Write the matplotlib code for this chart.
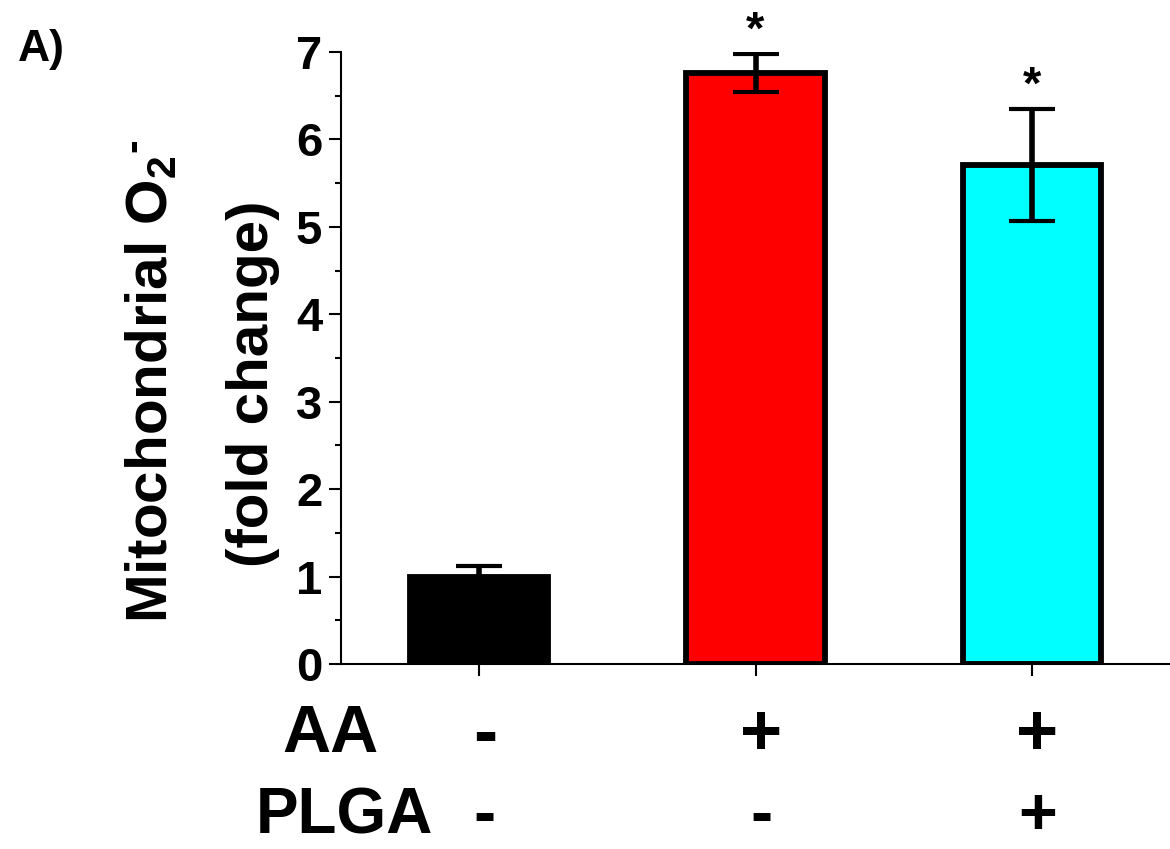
import matplotlib
matplotlib.use('Agg')
import matplotlib.pyplot as plt
from matplotlib.ticker import MultipleLocator
from matplotlib import transforms

# data
groups = ['ctrl', 'AA', 'AA+PLGA']
fold_change = [1.00, 6.76, 5.71]
fold_err = [0.12, 0.22, 0.64]
bar_colors = ['#000000', '#FF0000', '#00FFFF']
signif = ['', '*', '*']
row_names = ['AA', 'PLGA']
row_signs = [['-', '+', '+'],
             ['-', '-', '+']]

plt.rcParams['font.family'] = ['Liberation Sans', 'DejaVu Sans']
plt.rcParams['font.weight'] = 'bold'
plt.rcParams['mathtext.fontset'] = 'custom'
plt.rcParams['mathtext.rm'] = 'Liberation Sans:bold'
plt.rcParams['mathtext.bf'] = 'Liberation Sans:bold'
plt.rcParams['mathtext.it'] = 'Liberation Sans:bold'

fig = plt.figure(figsize=(11.7, 8.49), dpi=100)
ax = fig.add_axes([0.2915, 0.2179, 0.7085, 0.7209])

xpos = list(range(len(groups)))
ax.bar(xpos, fold_change, width=0.50, color=bar_colors, edgecolor='black',
       linewidth=4.2, zorder=2)
ax.errorbar(xpos, fold_change, yerr=fold_err, fmt='none', ecolor='black',
            elinewidth=4, capsize=16.5, capthick=3, zorder=3)

for x, v, e, s in zip(xpos, fold_change, fold_err, signif):
    if s:
        ax.annotate(s, (x, v + e), xytext=(0, 7), textcoords='offset points',
                    ha='center', va='baseline', fontsize=34, fontweight='bold',
                    annotation_clip=False)

ax.set_xlim(-0.5, 2.5)
ax.set_ylim(0, 7)
ax.set_xticks(xpos)
ax.set_xticklabels([])
ax.yaxis.set_major_locator(MultipleLocator(1))
ax.yaxis.set_minor_locator(MultipleLocator(0.5))
ax.tick_params(axis='y', which='major', direction='out', length=8.6, width=1.5,
               labelsize=34, pad=5)
ax.tick_params(axis='y', which='minor', direction='out', length=4.3, width=1.5)
ax.tick_params(axis='x', which='major', direction='out', length=8.6, width=1.5)
for lab in ax.get_yticklabels():
    lab.set_fontweight('bold')
ax.spines['top'].set_visible(False)
ax.spines['right'].set_visible(False)
ax.spines['left'].set_linewidth(1.5)
ax.spines['bottom'].set_linewidth(1.5)

# y label, two lines
fig.text(0.1427, 0.5506, 'Mitochondrial O$_\\mathbf{2}{}^\\mathbf{\u2010}$', rotation=90,
         rotation_mode='anchor', ha='center', va='baseline', fontsize=42,
         fontweight='bold')
fig.text(0.2291, 0.5483, '(fold change)', rotation=90, rotation_mode='anchor',
         ha='center', va='baseline', fontsize=42, fontweight='bold')

fig.text(0.0154, 1 - 61 / 849, 'A)', fontsize=32, fontweight='bold',
         ha='left', va='baseline')

# treatment table below the bars
trans = transforms.blended_transform_factory(ax.transData, fig.transFigure)
row_base = [1 - 752 / 849, 1 - 834 / 849]
row_left = [282 / 1170, 256 / 1170]
row_size = [48, 46]
sign_base = [1 - 755 / 849, 1 - 834 / 849]
sign_size = [52, 48]
for name, signs, yb, xl, fs, ys, ss in zip(row_names, row_signs, row_base, row_left,
                                           row_size, sign_base, sign_size):
    fig.text(xl, yb, name, fontsize=fs, fontweight='bold', ha='left', va='baseline')
    for x, s in zip(xpos, signs):
        ax.text(x + 0.02, ys, s, transform=trans, fontsize=ss, fontweight='bold',
                ha='center', va='baseline')

fig.savefig('out.png', dpi=100)
